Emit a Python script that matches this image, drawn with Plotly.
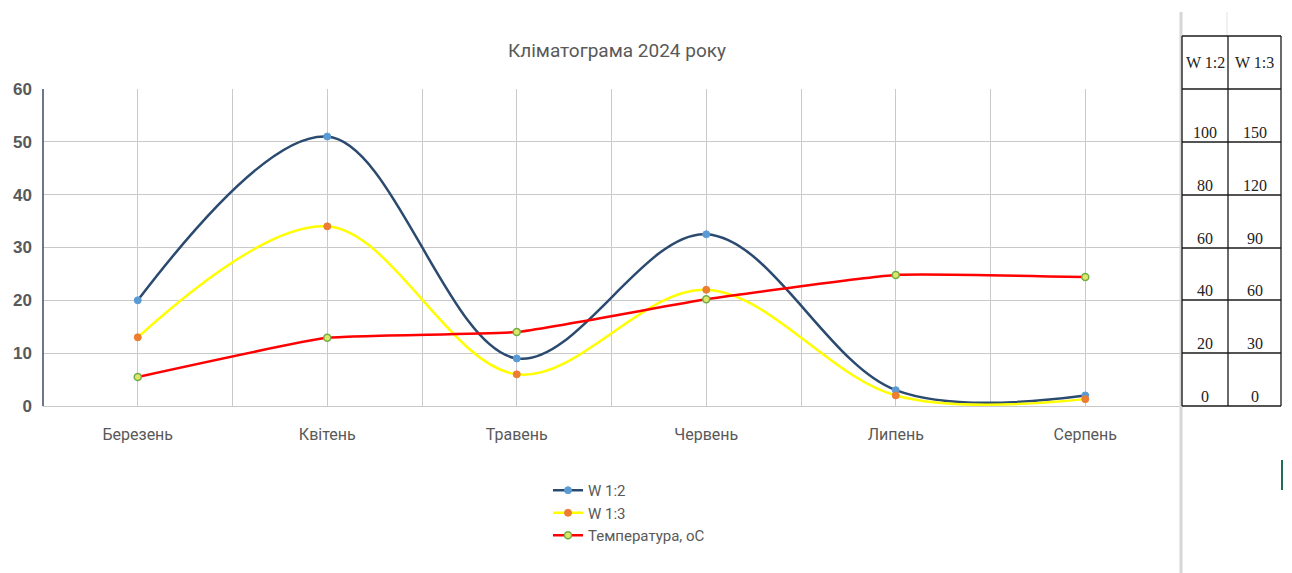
import plotly.graph_objects as go

# ---------------- data ----------------
months = ["Березень", "Квітень", "Травень", "Червень", "Липень", "Серпень"]
w12 = [20, 51, 9, 32.5, 3, 2]
w13 = [13, 34, 6, 22, 2, 1.3]
temp = [5.5, 12.9, 14.0, 20.2, 24.8, 24.4]

table_header = ["W 1:2", "W 1:3"]
table_w12 = ["100", "80", "60", "40", "20", "0"]
table_w13 = ["150", "120", "90", "60", "30", "0"]

y_ticks = [0, 10, 20, 30, 40, 50, 60]

# ---------------- layout geometry (page pixels; page body has 8px margin) ----------------
OFF = 8
W, H = 1292 - OFF, 573 - OFF
PL, PR, PT, PB = 43, 1180, 89, 406   # plot area in page pixels


def px(x):
    return (x - PL) / (PR - PL)


def py(y):
    return (PB - y) / (PB - PT)


xs = list(range(len(months)))

fig = go.Figure()

fig.add_trace(go.Scatter(
    x=xs, y=w12, name="W 1:2", mode="lines+markers",
    line=dict(color="#2B4A70", width=2.5, shape="spline", smoothing=1.0),
    marker=dict(color="#5B9BD5", size=7, line=dict(color="#5B9BD5", width=1)),
))
fig.add_trace(go.Scatter(
    x=xs, y=w13, name="W 1:3", mode="lines+markers",
    line=dict(color="#FFFF00", width=2.5, shape="spline", smoothing=1.0),
    marker=dict(color="#ED7D31", size=7, line=dict(color="#ED7D31", width=1)),
))
fig.add_trace(go.Scatter(
    x=xs, y=temp, name="Температура, оС", mode="lines+markers",
    line=dict(color="#FF0000", width=2.5, shape="spline", smoothing=0.4),
    marker=dict(color="#DDE86A", size=7, line=dict(color="#70AD47", width=1.5)),
))

grid_vals = [i * 0.5 for i in range(0, 12)]
tick_text = []
for v in grid_vals:
    if abs(v - round(v)) < 1e-9:
        tick_text.append(months[int(round(v))])
    else:
        tick_text.append("")

fig.update_xaxes(
    range=[-0.5, 5.5],
    tickvals=grid_vals + [5.5],
    ticktext=tick_text + [""],
    showgrid=True, gridcolor="#C9C9C9", gridwidth=1,
    showline=True, linecolor="#C9C9C9", linewidth=1,
    zeroline=False, ticks="",
    tickfont=dict(family="Roboto, Arial", size=16, color="#595959"),
    ticklabelstandoff=14,
    automargin=False,
    fixedrange=True,
)
fig.update_yaxes(
    range=[0, 60],
    tickvals=y_ticks,
    showgrid=True, gridcolor="#C9C9C9", gridwidth=1,
    showline=False, zeroline=False, ticks="",
    tickfont=dict(family="Liberation Sans, Arial", size=17, color="#595959", weight="bold"),
    ticklabelstandoff=10,
    automargin=False,
    fixedrange=True,
)

shapes = []
# left axis line (dark)
shapes.append(dict(type="line", xref="paper", yref="paper", x0=0, x1=0, y0=0, y1=1,
                   line=dict(color="#3A4A66", width=1.5)))

# spreadsheet gridlines behind table
shapes.append(dict(type="line", xref="paper", yref="paper", x0=px(1181), x1=px(1181),
                   y0=py(12), y1=py(580), line=dict(color="#D6D6D6", width=3)))
shapes.append(dict(type="line", xref="paper", yref="paper", x0=px(1227), x1=px(1227),
                   y0=py(12), y1=py(36), line=dict(color="#E2E2E2", width=1)))
# green cursor bar
shapes.append(dict(type="line", xref="paper", yref="paper", x0=px(1282), x1=px(1282),
                   y0=py(460), y1=py(490), line=dict(color="#1F6E5A", width=2)))

# table
t_left, t_mid, t_right = 1182, 1228, 1281
row_lines = [36, 89, 142, 195, 248, 300, 353, 406]
for x in (t_left, t_mid, t_right):
    shapes.append(dict(type="line", xref="paper", yref="paper", x0=px(x), x1=px(x),
                       y0=py(row_lines[0]), y1=py(row_lines[-1]),
                       line=dict(color="#1A1A1A", width=1.3)))
for y in row_lines:
    shapes.append(dict(type="line", xref="paper", yref="paper", x0=px(t_left), x1=px(t_right),
                       y0=py(y), y1=py(y), line=dict(color="#1A1A1A", width=1.3)))

annotations = []
serif = dict(family="Liberation Serif, Times New Roman", size=16, color="#222222")
c1 = (t_left + t_mid) / 2
c2 = (t_mid + t_right) / 2
annotations.append(dict(x=px(c1), y=py(62), xref="paper", yref="paper", text=table_header[0],
                        showarrow=False, font=serif, xanchor="center", yanchor="middle"))
annotations.append(dict(x=px(c2), y=py(62), xref="paper", yref="paper", text=table_header[1],
                        showarrow=False, font=serif, xanchor="center", yanchor="middle"))
for i, (a, b) in enumerate(zip(table_w12, table_w13)):
    yc = row_lines[i + 2] - 10
    annotations.append(dict(x=px(c1), y=py(yc), xref="paper", yref="paper", text=a,
                            showarrow=False, font=serif, xanchor="center", yanchor="middle"))
    annotations.append(dict(x=px(c2), y=py(yc), xref="paper", yref="paper", text=b,
                            showarrow=False, font=serif, xanchor="center", yanchor="middle"))

fig.update_layout(
    width=W, height=H,
    margin=dict(l=PL - OFF, r=1292 - PR, t=PT - OFF, b=573 - PB, pad=0, autoexpand=False),
    paper_bgcolor="white", plot_bgcolor="white",
    title=dict(text="Кліматограма 2024 року", x=(617 - OFF) / W, xanchor="center",
               y=1 - (50 - OFF) / H, yanchor="middle",
               font=dict(family="Roboto, Arial", size=19, color="#595959")),
    showlegend=True,
    legend=dict(x=px(548), y=py(474), xanchor="left", yanchor="top",
                orientation="v", bgcolor="rgba(0,0,0,0)",
                font=dict(family="Roboto, Arial", size=15, color="#595959"),
                itemwidth=30, tracegroupgap=0),
    shapes=shapes,
    annotations=annotations,
)

fig.write_html("out.html")
